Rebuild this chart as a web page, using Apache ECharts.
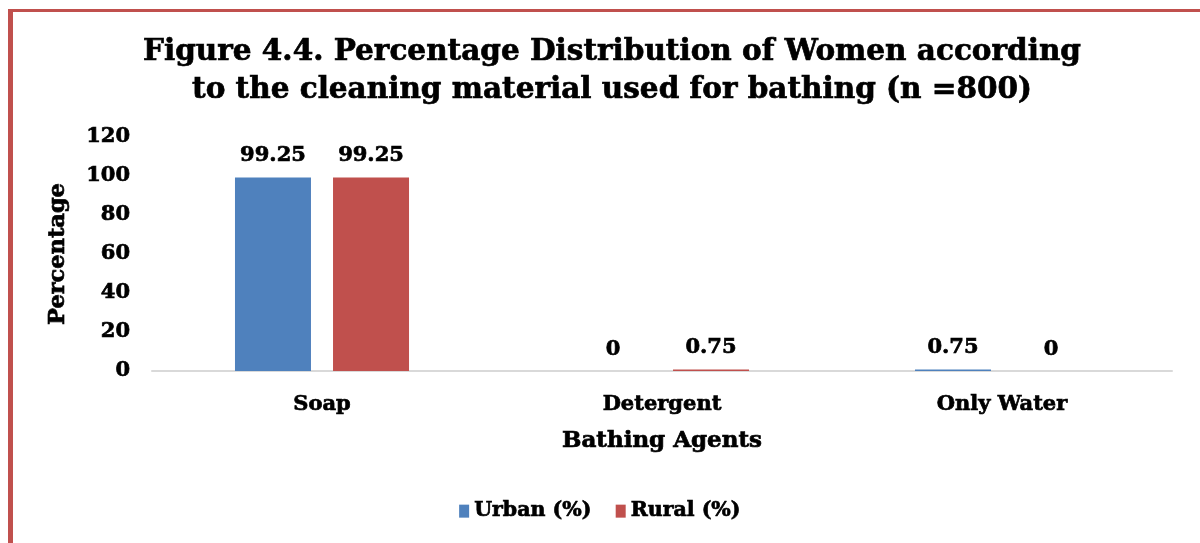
<!DOCTYPE html>
<html><head><meta charset="utf-8">
<script src="https://cdn.jsdelivr.net/npm/echarts@6/dist/echarts.min.js"></script>
<style>html,body{margin:0;padding:0;background:#fff}#c{width:1200px;height:543px}</style>
</head><body><div id="c"></div>
<script>
const titleText = 'Figure 4.4. Percentage Distribution of Women according\nto the cleaning material used for bathing (n =800)';
const categories = ['Soap', 'Detergent', 'Only Water'];
const urban = [99.25, 0, 0.75];
const rural = [99.25, 0.75, 0];
const seriesNames = ['Urban (%)', 'Rural (%)'];
const yTicks = {min: 0, max: 120, interval: 20};
const F = 'DejaVu Serif';
const heavy = {color: '#000', fontFamily: F, fontWeight: 'bold', textBorderColor: '#000', textBorderWidth: 0.7};
const chart = echarts.init(document.getElementById('c'));
const lbl = Object.assign({show: true, position: 'top', distance: 11, fontSize: 21}, heavy);
chart.setOption({
  animation: false,
  title: {text: titleText, left: 607, top: 28, textAlign: 'center',
    textStyle: Object.assign({fontSize: 29.5, lineHeight: 38}, heavy)},
  graphic: [
    {type: 'rect', shape: {x: 8, y: 9, width: 1192, height: 3}, style: {fill: '#c0504d'}},
    {type: 'rect', shape: {x: 8, y: 9, width: 5, height: 534}, style: {fill: '#c0504d'}}
  ],
  grid: {left: 152, right: 28, top: 137, bottom: 172, containLabel: false},
  legend: {bottom: 16, left: 'center', itemWidth: 10, itemHeight: 13, itemGap: 24, icon: 'rect',
    textStyle: Object.assign({fontSize: 20.5}, heavy),
    data: seriesNames},
  xAxis: {type: 'category', data: categories, name: 'Bathing Agents', nameLocation: 'middle', nameGap: 59,
    nameTextStyle: Object.assign({fontSize: 23}, heavy),
    axisLine: {lineStyle: {color: '#d9d9d9', width: 2}}, axisTick: {show: false},
    axisLabel: Object.assign({fontSize: 21, margin: 23}, heavy)},
  yAxis: {type: 'value', min: yTicks.min, max: yTicks.max, interval: yTicks.interval,
    name: 'Percentage', nameLocation: 'middle', nameGap: 82, nameRotate: 90,
    nameTextStyle: Object.assign({fontSize: 22.5}, heavy),
    splitLine: {show: false}, axisLine: {show: false}, axisTick: {show: false},
    axisLabel: Object.assign({fontSize: 21, margin: 22}, heavy)},
  series: [
    {name: seriesNames[0], type: 'bar', data: urban, barWidth: 76, barGap: '29%', itemStyle: {color: '#4f81bd'}, label: lbl},
    {name: seriesNames[1], type: 'bar', data: rural, barWidth: 76, itemStyle: {color: '#c0504d'}, label: lbl}
  ]
});
</script></body></html>
